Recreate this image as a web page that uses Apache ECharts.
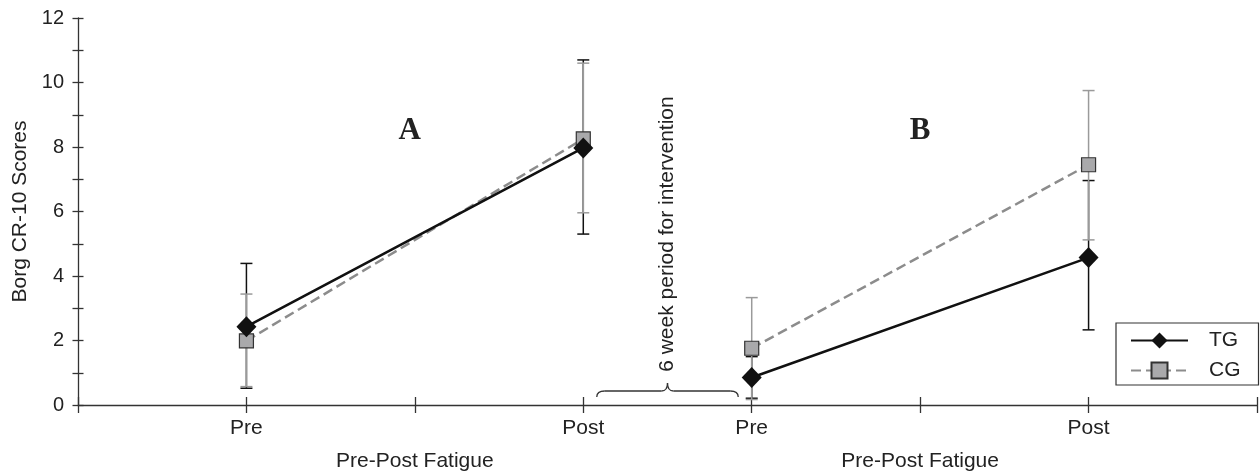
<!DOCTYPE html>
<html>
<head>
<meta charset="utf-8">
<script src="https://cdn.jsdelivr.net/npm/echarts@6/dist/echarts.min.js"></script>
<style>
html,body{margin:0;padding:0;background:#fff;}
#chart{width:1260px;height:476px;}
</style>
</head>
<body>
<div id="chart"></div>
<script>
// ---- data ----
const xTickLabels = ['', 'Pre', '', 'Post', 'Pre', '', 'Post', ''];
const xPos = [1, 3, 4, 6];            // A-Pre, A-Post, B-Pre, B-Post
const tgMean = [2.43, 7.97, 0.85, 4.57];
const tgLow  = [0.52, 5.30, 0.21, 2.33];
const tgHigh = [4.39, 10.70, 1.50, 6.96];
const cgMean = [1.99, 8.25, 1.76, 7.45];
const cgLow  = [0.57, 5.96, 0.17, 5.12];
const cgHigh = [3.44, 10.60, 3.33, 9.75];
const yTickValues = [0, 2, 4, 6, 8, 10, 12];

const FONT = "'Liberation Sans', Arial, sans-serif";
const AXIS = '#333';

function lineData(mean) {
  // two separate segments (A and B), broken between them
  return [[xPos[0], mean[0]], [xPos[1], mean[1]], [(xPos[1] + xPos[2]) / 2, '-'], [xPos[2], mean[2]], [xPos[3], mean[3]]];
}
function errData(low, high) {
  return xPos.map((x, i) => [x, low[i], high[i]]);
}
function errRender(color) {
  return function (params, api) {
    const x = api.value(0), lo = api.value(1), hi = api.value(2);
    const pHi = api.coord([x, hi]), pLo = api.coord([x, lo]);
    const w = 6;
    const st = { stroke: color, lineWidth: 1.5 };
    return {
      type: 'group',
      children: [
        { type: 'line', shape: { x1: pHi[0], y1: pHi[1], x2: pLo[0], y2: pLo[1] }, style: st },
        { type: 'line', shape: { x1: pHi[0] - w, y1: pHi[1], x2: pHi[0] + w, y2: pHi[1] }, style: st },
        { type: 'line', shape: { x1: pLo[0] - w, y1: pLo[1], x2: pLo[0] + w, y2: pLo[1] }, style: st }
      ]
    };
  };
}

const chart = echarts.init(document.getElementById('chart'));
const option = {
  animation: false,
  backgroundColor: '#fff',
  grid: { left: 78, right: 1, top: 18, bottom: 71 },
  xAxis: [{
    type: 'value', min: 0, max: 7, interval: 1,
    axisLine: { lineStyle: { color: AXIS, width: 1.3 } },
    axisTick: { show: true, length: 8, lineStyle: { color: AXIS, width: 1.3 } },
    axisLabel: { margin: 13, fontSize: 21, color: '#222', fontFamily: FONT,
      formatter: v => xTickLabels[Math.round(v)] || '' },
    splitLine: { show: false }
  }, {
    type: 'value', min: 0, max: 7, interval: 1, position: 'bottom',
    axisLine: { show: false },
    axisTick: { show: true, inside: true, length: 8, lineStyle: { color: AXIS, width: 1.3 } },
    axisLabel: { show: false }, splitLine: { show: false }
  }],
  yAxis: [{
    type: 'value', min: 0, max: 12, interval: 1,
    name: 'Borg CR-10 Scores', nameLocation: 'middle', nameGap: 42,
    nameTextStyle: { fontSize: 21, color: '#222', fontFamily: FONT },
    axisLine: { show: true, lineStyle: { color: AXIS, width: 1.3 } },
    axisTick: { show: true, length: 5.5, lineStyle: { color: AXIS, width: 1.3 } },
    axisLabel: { margin: 14, fontSize: 20, color: '#222', fontFamily: FONT,
      formatter: v => yTickValues.indexOf(v) >= 0 ? String(v) : '' },
    splitLine: { show: false }
  }, {
    type: 'value', min: 0, max: 12, interval: 1, position: 'left',
    axisLine: { show: false },
    axisTick: { show: true, inside: true, length: 5.5, lineStyle: { color: AXIS, width: 1.3 } },
    axisLabel: { show: false }, splitLine: { show: false }
  }],
  legend: {
    data: ['TG', 'CG'], orient: 'vertical', left: 1116, top: 323,
    padding: [7, 18, 4, 14], itemWidth: 57, itemHeight: 20, itemGap: 9,
    borderColor: AXIS, borderWidth: 1.2, backgroundColor: '#fff',
    textStyle: { fontSize: 21, color: '#222', fontFamily: FONT, padding: [0, 0, 0, 16] }
  },
  series: [
    { name: 'errTG', type: 'custom', renderItem: errRender('#111'), data: errData(tgLow, tgHigh), z: 1, silent: true },
    { name: 'errCG', type: 'custom', renderItem: errRender('#9a9a9a'), data: errData(cgLow, cgHigh), z: 2, silent: true },
    { name: 'CG', type: 'line', data: lineData(cgMean), z: 3,
      symbol: 'rect', symbolSize: 14,
      lineStyle: { color: '#8c8c8c', width: 2.5, type: [10, 5] },
      itemStyle: { color: '#a9a9ab', borderColor: '#333', borderWidth: 1.2 } },
    { name: 'TG', type: 'line', data: lineData(tgMean), z: 4,
      symbol: 'diamond', symbolSize: [20, 21],
      lineStyle: { color: '#111', width: 2.6 },
      itemStyle: { color: '#111', borderColor: '#111', borderWidth: 0 } }
  ]
};
chart.setOption(option);

// ---- annotations, positioned through the axes ----
const px = p => chart.convertToPixel({ xAxisIndex: 0, yAxisIndex: 0 }, p);
const axisY = px([0, 0])[1];
const pA = px([1.97, 8.5]), pB = px([5.0, 8.5]);
const pTxt = px([3.5, 5.3]);
const bL = px([3.08, 0])[0], bR = px([3.92, 0])[0], bM = px([3.5, 0])[0];
const yEnd = axisY - 8, yH = axisY - 14, yTip = axisY - 22;
const f1 = px([2, 0])[0], f2 = px([5, 0])[0];
const bs = { stroke: AXIS, lineWidth: 1.3, fill: null };
function qc(x1, y1, cx, cy, x2, y2) {
  return { type: 'bezierCurve', shape: { x1: x1, y1: y1, x2: x2, y2: y2, cpx1: cx, cpy1: cy }, style: bs };
}
function ln(x1, y1, x2, y2) {
  return { type: 'line', shape: { x1: x1, y1: y1, x2: x2, y2: y2 }, style: bs };
}

chart.setOption({
  graphic: [
    { type: 'text', x: pA[0], y: pA[1], style: { text: 'A', font: "bold 31px 'Liberation Serif', 'Times New Roman', serif", fill: '#222', align: 'center', verticalAlign: 'middle' } },
    { type: 'text', x: pB[0], y: pB[1], style: { text: 'B', font: "bold 31px 'Liberation Serif', 'Times New Roman', serif", fill: '#222', align: 'center', verticalAlign: 'middle' } },
    { type: 'text', x: pTxt[0], y: pTxt[1], rotation: Math.PI / 2, style: { text: '6 week period for intervention', font: "21px " + FONT, fill: '#222', align: 'center', verticalAlign: 'middle' } },
    qc(bL, yEnd, bL, yH, bL + 8, yH),
    ln(bL + 8, yH, bM - 6, yH),
    qc(bM - 6, yH, bM, yH, bM, yTip),
    qc(bM, yTip, bM, yH, bM + 6, yH),
    ln(bM + 6, yH, bR - 8, yH),
    qc(bR - 8, yH, bR, yH, bR, yEnd),
    { type: 'text', x: f1, y: axisY + 56, style: { text: 'Pre-Post Fatigue', font: "21px " + FONT, fill: '#222', align: 'center', verticalAlign: 'middle' } },
    { type: 'text', x: f2, y: axisY + 56, style: { text: 'Pre-Post Fatigue', font: "21px " + FONT, fill: '#222', align: 'center', verticalAlign: 'middle' } }
  ]
});
</script>
</body>
</html>
